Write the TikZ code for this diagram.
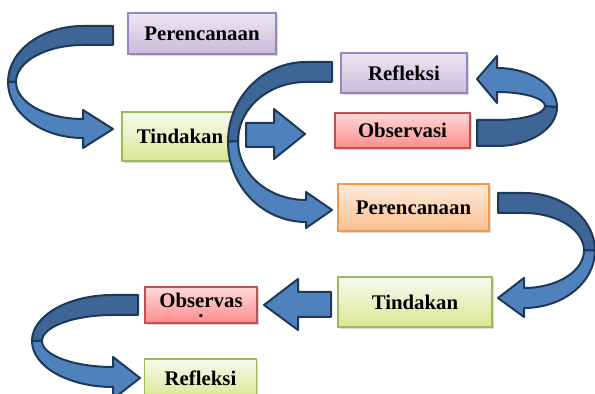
\documentclass[tikz,border=0pt]{standalone}
\usepackage{fontspec}
\setmainfont{Liberation Serif}
\usetikzlibrary{shadows}
\definecolor{arrowblue}{HTML}{4F81BD}
\definecolor{arrowdark}{HTML}{3D6595}
\definecolor{arrowline}{HTML}{1E3857}
\definecolor{purpleline}{HTML}{9B85BE}
\definecolor{greenline}{HTML}{9BBB59}
\definecolor{redline}{HTML}{C0504D}
\definecolor{orangeline}{HTML}{F79646}
\tikzset{
  box/.style={draw, line width=0.6pt, inner sep=0pt,
    font=\fontsize{10.4}{12}\selectfont\bfseries,
    drop shadow={shadow xshift=0.8pt, shadow yshift=-0.8pt, opacity=0.3}},
  purplebox/.style={box, draw=purpleline, top color=white!80!purpleline, bottom color=white!45!purpleline},
  greenbox/.style={box, draw=greenline, top color=white!92!greenline, bottom color=white!55!greenline!80!yellow},
  redbox/.style={box, draw=redline, top color=white!85!red, bottom color=white!55!red},
  orangebox/.style={box, draw=orangeline, top color=white!80!orangeline, bottom color=white!40!orangeline},
  ribbon/.style={draw=arrowline, line width=1pt, line join=round},
}
\begin{document}
\begin{tikzpicture}[x=0.5pt, y=-0.5pt]
\useasboundingbox (0,0) rectangle (595,394);
% boxes
\node[purplebox, minimum width=74pt, minimum height=20.5pt] (plan1) at (202,33.5){Perencanaan};
\node[greenbox, minimum width=58pt, minimum height=24.5pt] (act1) at (180,136.5){Tindakan};
\node[purplebox, minimum width=63pt, minimum height=20pt] (refl1) at (404,73){Refleksi};
\node[redbox, minimum width=67.5pt, minimum height=17.5pt] (obs1) at (402.5,130.5){Observasi};
\node[orangebox, minimum width=75.5pt, minimum height=23.5pt] (plan2) at (413.5,207.5){Perencanaan};
\node[greenbox, minimum width=77pt, minimum height=25pt] (act2) at (415,302){Tindakan};
\node[redbox, minimum width=56pt, minimum height=18pt, align=center] (obs2) at (201,305){Observas\\[-7pt].};
\node[greenbox, minimum width=56pt, minimum height=19pt] (refl2) at (200.5,378){Refleksi};
% plan1 -> act1
\draw[ribbon, fill=arrowdark] (113,26) -- (83,26) arc[start angle=270, end angle=180, x radius=75, y radius=56]
  -- (16,82) arc[start angle=180, end angle=270, x radius=67, y radius=37] -- (113,45) -- cycle;
\draw[ribbon, fill=arrowblue] (8,82) arc[start angle=180, end angle=90, x radius=75, y radius=56]
  -- (83,148) -- (113,129) -- (83,110) -- (83,119) arc[start angle=90, end angle=180, x radius=67, y radius=37] -- cycle;
% act1 -> obs1
\draw[ribbon, fill=arrowblue] (246,123) -- (274,123) -- (274,109) -- (305,134) -- (274,159) -- (274,147) -- (246,147) -- cycle;
% obs1 -> refl1
\draw[ribbon, fill=arrowdark] (477,146) -- (497,146) arc[start angle=90, end angle=0, x radius=60, y radius=39]
  -- (545,106) arc[start angle=0, end angle=90, x radius=48, y radius=14] -- (477,120) -- cycle;
\draw[ribbon, fill=arrowblue] (557,107) arc[start angle=0, end angle=-90, x radius=60, y radius=39]
  -- (497,56) -- (477,79) -- (497,103) -- (497,92) arc[start angle=-90, end angle=0, x radius=48, y radius=14] -- cycle;
% refl1 -> plan2
\draw[ribbon, fill=arrowdark] (332,62) -- (306,62) arc[start angle=270, end angle=180, x radius=78, y radius=80]
  -- (238,141) arc[start angle=180, end angle=270, x radius=68, y radius=59] -- (332,82) -- cycle;
\draw[ribbon, fill=arrowblue] (228,142) arc[start angle=180, end angle=90, x radius=78, y radius=80]
  -- (306,228) -- (332,210) -- (306,192) -- (306,200) arc[start angle=90, end angle=180, x radius=68, y radius=59] -- cycle;
% plan2 -> act2
\draw[ribbon, fill=arrowdark] (498,193) -- (524,193) arc[start angle=-90, end angle=0, x radius=71, y radius=57.5]
  -- (584,250.5) arc[start angle=0, end angle=-90, x radius=60, y radius=37.5] -- (498,213) -- cycle;
\draw[ribbon, fill=arrowblue] (595,250.5) arc[start angle=0, end angle=90, x radius=71, y radius=57.5]
  -- (524,317) -- (498,298) -- (524,278) -- (524,288) arc[start angle=90, end angle=0, x radius=60, y radius=37.5] -- cycle;
% act2 -> obs2
\draw[ribbon, fill=arrowblue] (331,292) -- (298,292) -- (298,279) -- (264,305) -- (298,330) -- (298,317) -- (331,317) -- cycle;
% obs2 -> refl2
\draw[ribbon, fill=arrowdark] (138,295) -- (113,295) arc[start angle=270, end angle=180, x radius=81, y radius=46]
  -- (42,341) arc[start angle=180, end angle=270, x radius=71, y radius=26] -- (138,315) -- cycle;
\draw[ribbon, fill=arrowblue] (32,341) arc[start angle=180, end angle=90, x radius=81, y radius=46]
  -- (113,399) -- (140,378) -- (113,357) -- (113,367) arc[start angle=90, end angle=180, x radius=71, y radius=26] -- cycle;
\end{tikzpicture}
\end{document}
